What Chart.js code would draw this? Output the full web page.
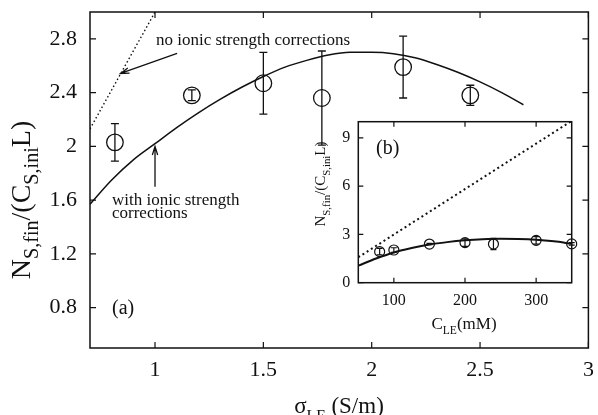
<!DOCTYPE html>
<html>
<head>
<meta charset="utf-8">
<script src="https://cdn.jsdelivr.net/npm/chart.js@4"></script>
<style>
  html, body { margin: 0; padding: 0; background: #fff; }
  #wrap { position: relative; width: 598px; height: 415px; }
  #mainChart { position: absolute; left: 0; top: 0; }
  #insetChart { position: absolute; left: 300px; top: 110px; }
</style>
</head>
<body>
<div id="wrap">
  <canvas id="mainChart" width="598" height="415"></canvas>
  <canvas id="insetChart" width="290" height="240"></canvas>
</div>
<script>
// --- main panel (a) data ---
const sigmaPts = [0.815, 1.17, 1.5, 1.77, 2.145, 2.455];
const ratioPts = [2.03, 2.38, 2.47, 2.36, 2.59, 2.38];
const ratioErr = [0.14, 0.04, 0.23, 0.35, 0.23, 0.075];

const fitSigma = [0.7, 0.8, 0.9, 1.0, 1.1, 1.2, 1.3, 1.4, 1.5, 1.6, 1.7, 1.8, 1.9, 2.0, 2.1, 2.2, 2.3, 2.4, 2.5, 2.6, 2.7];
const fitRatio = [1.57, 1.75, 1.90, 2.02, 2.14, 2.25, 2.35, 2.44, 2.52, 2.59, 2.64, 2.68, 2.70, 2.70, 2.69, 2.66, 2.61, 2.55, 2.48, 2.40, 2.31];

const noCorrSigma = [0.7, 1.0];
const noCorrRatio = [2.13, 3.0];

const xTicks = [1, 1.5, 2, 2.5, 3];
const yTicks = [0.8, 1.2, 1.6, 2, 2.4, 2.8];

// --- inset panel (b) data ---
const concPts = [80, 100, 150, 200, 240, 300, 350];
const concRatio = [1.93, 2.03, 2.40, 2.49, 2.40, 2.63, 2.41];
const concErr = [0.2, 0.14, 0.04, 0.23, 0.35, 0.23, 0.075];

const fitConc = [50, 75, 100, 125, 150, 175, 200, 225, 250, 275, 300, 325, 350];
const fitConcRatio = [1.06, 1.5, 1.88, 2.15, 2.37, 2.52, 2.63, 2.70, 2.73, 2.72, 2.67, 2.57, 2.42];

const noCorrConc = [50, 350];
const noCorrConcRatio = [1.58, 10.05];

const insetXTicks = [100, 200, 300];
const insetYTicks = [0, 3, 6, 9];

const FONT = "'Liberation Serif', 'Times New Roman', serif";
const INK = '#111';

const pts = (xs, ys) => xs.map((x, i) => ({ x: x, y: ys[i] }));

// draws text with subscript pieces: parts = [[text, isSub], ...]
function richText(ctx, parts, x, y, size, align, subScale) {
    const subSize = size * (subScale || 0.68);
    let total = 0;
    parts.forEach(p => {
        ctx.font = (p[1] ? subSize : size) + 'px ' + FONT;
        total += ctx.measureText(p[0]).width;
    });
    let cx = align === 'center' ? x - total / 2 : x;
    ctx.textAlign = 'left';
    ctx.textBaseline = 'alphabetic';
    parts.forEach(p => {
        ctx.font = (p[1] ? subSize : size) + 'px ' + FONT;
        ctx.fillText(p[0], cx, p[1] ? y + size * 0.3 : y);
        cx += ctx.measureText(p[0]).width;
    });
}

function arrow(ctx, x1, y1, x2, y2, head) {
    const a = Math.atan2(y2 - y1, x2 - x1);
    ctx.beginPath();
    ctx.moveTo(x1, y1);
    ctx.lineTo(x2, y2);
    ctx.moveTo(x2 - head * Math.cos(a - 0.3), y2 - head * Math.sin(a - 0.3));
    ctx.lineTo(x2, y2);
    ctx.lineTo(x2 - head * Math.cos(a + 0.3), y2 - head * Math.sin(a + 0.3));
    ctx.stroke();
}

// frame with inward ticks on all four sides
function frame(chart, tickLen) {
    const ctx = chart.ctx;
    const a = chart.chartArea;
    const sx = chart.scales.x, sy = chart.scales.y;
    ctx.save();
    ctx.strokeStyle = INK;
    ctx.lineWidth = 1.5;
    ctx.strokeRect(a.left, a.top, a.right - a.left, a.bottom - a.top);
    ctx.lineWidth = 1.2;
    ctx.beginPath();
    sx.ticks.forEach(t => {
        const px = sx.getPixelForValue(t.value);
        ctx.moveTo(px, a.bottom); ctx.lineTo(px, a.bottom - tickLen);
        ctx.moveTo(px, a.top); ctx.lineTo(px, a.top + tickLen);
    });
    sy.ticks.forEach(t => {
        const py = sy.getPixelForValue(t.value);
        ctx.moveTo(a.left, py); ctx.lineTo(a.left + tickLen, py);
        ctx.moveTo(a.right, py); ctx.lineTo(a.right - tickLen, py);
    });
    ctx.stroke();
    ctx.restore();
}

function errorBars(chart, xs, ys, errs, cap, width) {
    const ctx = chart.ctx;
    const sx = chart.scales.x, sy = chart.scales.y;
    ctx.save();
    ctx.strokeStyle = INK;
    ctx.lineWidth = width;
    ctx.beginPath();
    xs.forEach((x, i) => {
        const px = sx.getPixelForValue(x);
        const top = sy.getPixelForValue(ys[i] + errs[i]);
        const bot = sy.getPixelForValue(ys[i] - errs[i]);
        ctx.moveTo(px, top); ctx.lineTo(px, bot);
        ctx.moveTo(px - cap, top); ctx.lineTo(px + cap, top);
        ctx.moveTo(px - cap, bot); ctx.lineTo(px + cap, bot);
    });
    ctx.stroke();
    ctx.restore();
}

// keep the plot box where it is: no extra room for overhanging end labels
function fixX(h) {
    return s => { s.height = h; s.paddingLeft = 0; s.paddingRight = 0; };
}
function fixY(w) {
    return s => { s.width = w; s.paddingTop = 0; s.paddingBottom = 0; };
}
const plainLabel = v => String(v);

const mainDecor = {
    id: 'mainDecor',
    afterDraw(chart) {
        const ctx = chart.ctx;
        const sx = chart.scales.x, sy = chart.scales.y;
        frame(chart, 6);
        errorBars(chart, sigmaPts, ratioPts, ratioErr, 4, 1.3);

        ctx.save();
        ctx.strokeStyle = INK;
        ctx.fillStyle = INK;
        ctx.lineWidth = 1.3;
        // annotation arrows
        arrow(ctx, sx.getPixelForValue(1.102), sy.getPixelForValue(2.692),
                   sx.getPixelForValue(0.841), sy.getPixelForValue(2.543), 9);
        arrow(ctx, sx.getPixelForValue(1.0), sy.getPixelForValue(1.70),
                   sx.getPixelForValue(1.0), sy.getPixelForValue(2.0), 9);

        ctx.font = '17px ' + FONT;
        ctx.textAlign = 'left';
        ctx.textBaseline = 'alphabetic';
        ctx.fillText('no ionic strength corrections', 156, 45);
        ctx.fillText('with ionic strength', 112, 205);
        ctx.fillText('corrections', 112, 218);
        ctx.font = '20px ' + FONT;
        ctx.fillText('(a)', 112, 314);

        // axis titles
        richText(ctx, [['σ', false], ['LE', true], [' (S/m)', false]], 339, 413, 23, 'center');
        ctx.save();
        ctx.translate(30, 200);
        ctx.rotate(-Math.PI / 2);
        richText(ctx, [['N', false], ['S,fin', true], ['/(C', false], ['S,ini', true], ['L)', false]], 0, 0, 28, 'center', 0.72);
        ctx.restore();
        ctx.restore();
    }
};

const insetDecor = {
    id: 'insetDecor',
    beforeDraw(chart) {
        const a = chart.chartArea;
        chart.ctx.save();
        chart.ctx.fillStyle = '#fff';
        chart.ctx.fillRect(a.left, a.top, a.right - a.left, a.bottom - a.top);
        chart.ctx.restore();
    },
    afterDraw(chart) {
        const ctx = chart.ctx;
        frame(chart, 5);
        errorBars(chart, concPts, concRatio, concErr, 3, 1.2);
        ctx.save();
        ctx.fillStyle = INK;
        ctx.font = '20px ' + FONT;
        ctx.textAlign = 'left';
        ctx.textBaseline = 'alphabetic';
        ctx.fillText('(b)', 76, 44);
        richText(ctx, [['C', false], ['LE', true], ['(mM)', false]], 164, 219, 17, 'center');
        ctx.translate(25, 74);
        ctx.rotate(-Math.PI / 2);
        richText(ctx, [['N', false], ['S,fin', true], ['/(C', false], ['S,ini', true], ['L)', false]], 0, 0, 15, 'center', 0.72);
        ctx.restore();
    }
};

new Chart(document.getElementById('mainChart'), {
    type: 'scatter',
    data: {
        datasets: [{
            data: pts(fitSigma, fitRatio),
            showLine: true,
            borderColor: INK,
            borderWidth: 1.5,
            pointRadius: 0,
            cubicInterpolationMode: 'monotone'
        }, {
            data: pts(noCorrSigma, noCorrRatio),
            showLine: true,
            borderColor: INK,
            borderWidth: 1.4,
            borderDash: [1.5, 2.5],
            pointRadius: 0
        }, {
            data: pts(sigmaPts, ratioPts),
            pointStyle: 'circle',
            pointRadius: 8.3,
            pointBorderWidth: 1.3,
            pointBorderColor: INK,
            pointBackgroundColor: 'rgba(0,0,0,0)'
        }]
    },
    options: {
        responsive: false,
        animation: false,
        devicePixelRatio: 1,
        layout: { padding: { left: 0, top: 12, right: 9, bottom: 0 } },
        plugins: { legend: { display: false }, tooltip: { enabled: false } },
        scales: {
            x: {
                type: 'linear',
                min: 0.7,
                max: 3,
                afterBuildTicks: s => { s.ticks = xTicks.map(v => ({ value: v })); },
                afterFit: fixX(67),
                grid: { display: false, drawTicks: false },
                border: { display: false },
                ticks: { color: INK, font: { family: FONT, size: 22 }, padding: 9, maxRotation: 0, callback: plainLabel }
            },
            y: {
                type: 'linear',
                min: 0.5,
                max: 3,
                afterBuildTicks: s => { s.ticks = yTicks.map(v => ({ value: v })); },
                afterFit: fixY(90),
                grid: { display: false, drawTicks: false },
                border: { display: false },
                ticks: { color: INK, font: { family: FONT, size: 22 }, padding: 13, callback: plainLabel }
            }
        }
    },
    plugins: [mainDecor]
});

new Chart(document.getElementById('insetChart'), {
    type: 'scatter',
    data: {
        datasets: [{
            data: pts(fitConc, fitConcRatio),
            showLine: true,
            borderColor: INK,
            borderWidth: 2,
            pointRadius: 0,
            cubicInterpolationMode: 'monotone'
        }, {
            data: pts(noCorrConc, noCorrConcRatio),
            showLine: true,
            borderColor: INK,
            borderWidth: 2,
            borderDash: [2, 3],
            pointRadius: 0
        }, {
            data: pts(concPts, concRatio),
            clip: false,
            pointStyle: 'circle',
            pointRadius: 5,
            pointBorderWidth: 1.2,
            pointBorderColor: INK,
            pointBackgroundColor: 'rgba(0,0,0,0)'
        }]
    },
    options: {
        responsive: false,
        animation: false,
        devicePixelRatio: 1,
        layout: { padding: { left: 0, top: 11.7, right: 18.3, bottom: 0 } },
        plugins: { legend: { display: false }, tooltip: { enabled: false } },
        scales: {
            x: {
                type: 'linear',
                min: 50,
                max: 350,
                afterBuildTicks: s => { s.ticks = insetXTicks.map(v => ({ value: v })); },
                afterFit: fixX(67.3),
                grid: { display: false, drawTicks: false },
                border: { display: false },
                ticks: { color: INK, font: { family: FONT, size: 16 }, padding: 8, maxRotation: 0, callback: plainLabel }
            },
            y: {
                type: 'linear',
                min: 0,
                max: 10,
                afterBuildTicks: s => { s.ticks = insetYTicks.map(v => ({ value: v })); },
                afterFit: fixY(58.3),
                grid: { display: false, drawTicks: false },
                border: { display: false },
                ticks: { color: INK, font: { family: FONT, size: 16 }, padding: 8, callback: plainLabel }
            }
        }
    },
    plugins: [insetDecor]
});
</script>
</body>
</html>
